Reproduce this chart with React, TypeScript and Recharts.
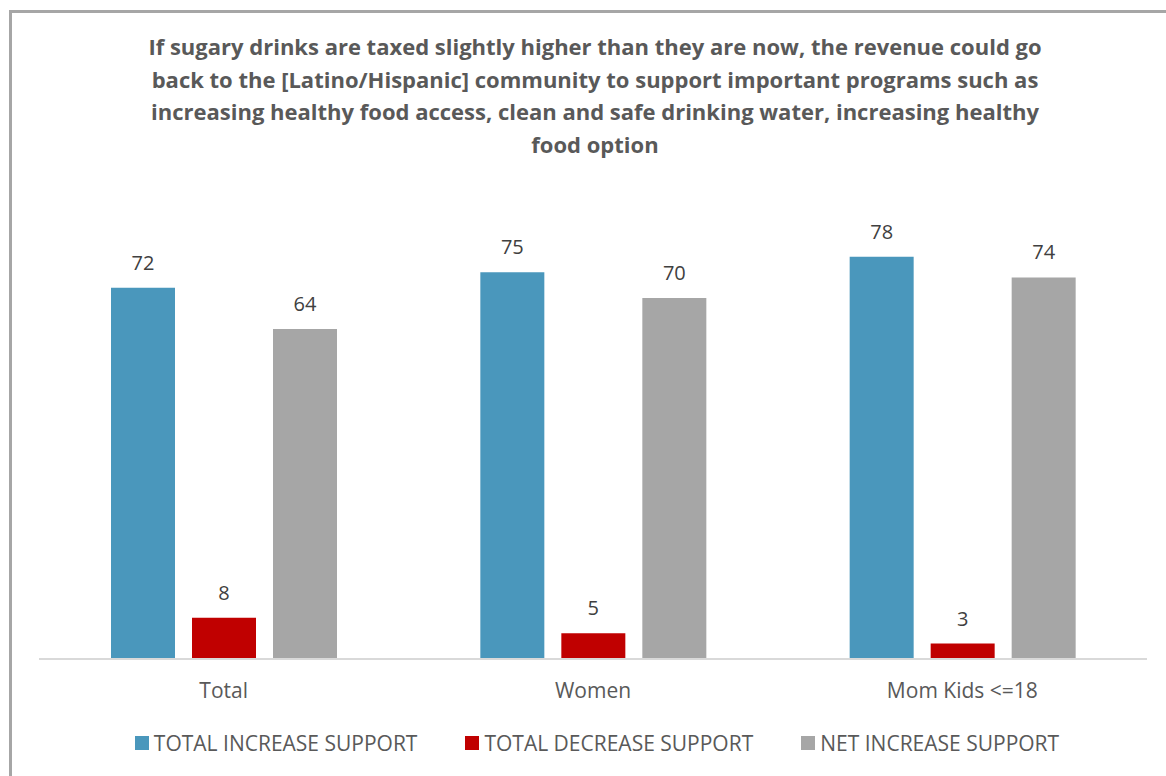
import { BarChart, Bar, XAxis, YAxis, LabelList } from 'recharts';

const categories = ['Total', 'Women', 'Mom Kids <=18'];
const totalIncrease = [72, 75, 78];
const totalDecrease = [8, 5, 3];
const netIncrease = [64, 70, 74];

const titleLines = [
  'If sugary drinks are taxed slightly higher than they are now, the revenue could go',
  'back to the [Latino/Hispanic] community to support important programs such as',
  'increasing healthy food access, clean and safe drinking water, increasing healthy',
  'food option',
];

const SERIES = [
  { key: 'inc', name: 'TOTAL INCREASE SUPPORT', color: '#4A97BC' },
  { key: 'dec', name: 'TOTAL DECREASE SUPPORT', color: '#C00000' },
  { key: 'net', name: 'NET INCREASE SUPPORT', color: '#A6A6A6' },
];

const data = categories.map((name, i) => ({
  name,
  inc: totalIncrease[i],
  dec: totalDecrease[i],
  net: netIncrease[i],
}));

const FONT = '"Open Sans", sans-serif';

export default function App() {
  return (
    <div style={{ position: 'absolute', left: 0, top: 0, width: 1166, height: 776, background: '#fff', overflow: 'hidden' }}>
      <div
        style={{
          position: 'absolute', left: 9, top: 10, width: 1200, height: 820,
          border: '3px solid #a6a6a6', boxSizing: 'border-box',
        }}
      />
      <div
        style={{
          position: 'absolute', left: 45, top: 30, width: 1100, textAlign: 'center',
          fontFamily: FONT, fontWeight: 700, fontSize: 22, lineHeight: '32.5px', color: '#595959',
        }}
      >
        {titleLines.map((l) => (
          <div key={l}>{l}</div>
        ))}
      </div>
      <div style={{ position: 'absolute', left: 0, top: 0 }}>
        <BarChart
          width={1166}
          height={776}
          data={data}
          margin={{ top: 195, right: 19, bottom: 87, left: 39 }}
          barSize={64}
          barGap={17}
        >
          <XAxis
            dataKey="name"
            axisLine={{ stroke: '#d9d9d9', strokeWidth: 2 }}
            tickLine={false}
            tickMargin={18}
            tick={{ fill: '#595959', fontSize: 21, fontFamily: FONT }}
          />
          <YAxis hide domain={[0, 90]} />
          {SERIES.map((s) => (
            <Bar key={s.key} dataKey={s.key} name={s.name} fill={s.color} isAnimationActive={false}>
              <LabelList
                dataKey={s.key}
                position="top"
                offset={18}
                style={{ fill: '#404040', fontSize: 20, fontFamily: FONT }}
              />
            </Bar>
          ))}
        </BarChart>
      </div>
      <div
        style={{
          position: 'absolute', top: 729, left: 14, width: 1166, display: 'flex',
          justifyContent: 'center', gap: 48, fontFamily: FONT,
        }}
      >
        {SERIES.map((s) => (
          <div key={s.key} style={{ display: 'flex', alignItems: 'center', color: '#595959', fontSize: 21 }}>
            <span style={{ width: 14, height: 14, background: s.color, marginRight: 5, display: 'inline-block' }} />
            <span>{s.name}</span>
          </div>
        ))}
      </div>
    </div>
  );
}
